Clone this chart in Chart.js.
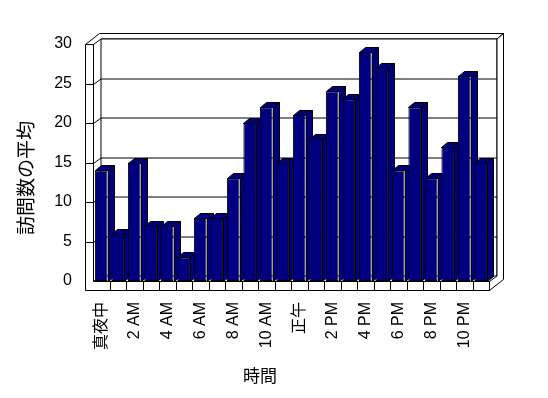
<!DOCTYPE html>
<html><head><meta charset="utf-8">
<script src="https://cdn.jsdelivr.net/npm/chart.js@4.4.1/dist/chart.umd.min.js"></script>
<style>html,body{margin:0;padding:0;background:#fff;}canvas{display:block;}</style>
</head><body>
<canvas id="c" width="548" height="398"></canvas>
<script>
const categories = ['真夜中','1 AM','2 AM','3 AM','4 AM','5 AM','6 AM','7 AM','8 AM','9 AM','10 AM','11 AM','正午','1 PM','2 PM','3 PM','4 PM','5 PM','6 PM','7 PM','8 PM','9 PM','10 PM','11 PM'];
const visits = [14,6,15,7,7,3,8,8,13,20,22,15,21,18,24,23,29,27,14,22,13,17,26,15];
const yTicks = [0,5,10,15,20,25,30];
const yTitle = '訪問数の平均';
const xTitle = '時間';

const FONT = '"Liberation Sans", "Noto Sans CJK JP", sans-serif';
const NAVY = '#000080';
const D = {x: 7.5, y: -5.5};   // box depth
const W = {x: 6.5, y: -5.5};   // back wall thickness
const LW = 8;                  // left wall thickness
const FT = 9;                  // floor thickness
const BD = {x: 6, y: -5};      // bar depth

function poly(ctx, pts, fill, stroke) {
  ctx.beginPath();
  ctx.moveTo(pts[0][0], pts[0][1]);
  for (let i = 1; i < pts.length; i++) ctx.lineTo(pts[i][0], pts[i][1]);
  ctx.closePath();
  if (fill) { ctx.fillStyle = fill; ctx.fill(); }
  if (stroke) { ctx.strokeStyle = stroke; ctx.stroke(); }
}
function line(ctx, pts) {
  ctx.beginPath();
  ctx.moveTo(pts[0][0], pts[0][1]);
  for (let i = 1; i < pts.length; i++) ctx.lineTo(pts[i][0], pts[i][1]);
  ctx.stroke();
}
const s = v => Math.round(v) + 0.5;

const box3d = {
  id: 'box3d',
  beforeDatasetsDraw(chart) {
    const ctx = chart.ctx, xs = chart.scales.x, ys = chart.scales.y;
    const L = s(xs.left), R = s(xs.right);
    const T = s(ys.getPixelForValue(yTicks[yTicks.length - 1]));
    const B = s(ys.getPixelForValue(0));
    ctx.save();
    ctx.lineWidth = 1;
    ctx.strokeStyle = '#000';
    // top face (left wall top + back wall top)
    poly(ctx, [[L - LW, T], [L, T], [L + D.x, T + D.y], [R + D.x, T + D.y],
               [R + D.x + W.x, T + D.y + W.y], [L - LW + D.x + W.x, T + D.y + W.y]], '#fff', '#000');
    // back wall inner face
    poly(ctx, [[L + D.x, T + D.y], [R + D.x, T + D.y], [R + D.x, B + D.y], [L + D.x, B + D.y]], '#fff', '#000');
    // right side
    poly(ctx, [[R, B], [R + D.x, B + D.y], [R + D.x, T + D.y], [R + D.x + W.x, T + D.y + W.y],
               [R + D.x + W.x, B + FT + D.y + W.y], [R, B + FT]], '#fff', '#000');
    // left wall inner face / floor
    line(ctx, [[L, B], [L + D.x, B + D.y]]);
    // gridlines
    yTicks.forEach(v => {
      if (v === 0 || v === yTicks[yTicks.length - 1]) return;
      const y = s(ys.getPixelForValue(v));
      line(ctx, [[L - LW, y], [L, y], [L + D.x, y + D.y], [R + D.x, y + D.y]]);
    });
    // front L-shaped face (left wall + floor slab)
    poly(ctx, [[L - LW, T], [L, T], [L, B], [R, B], [R, B + FT], [L - LW, B + FT]], null, '#000');
    // category dividers on floor slab
    const n = categories.length, pitch = (xs.right - xs.left) / n;
    for (let k = 1; k < n; k++) {
      const x = s(xs.left + k * pitch);
      line(ctx, [[x, B], [x, B + FT]]);
    }
    // bar side and top faces
    const meta = chart.getDatasetMeta(0);
    meta.data.forEach(bar => {
      const l = s(bar.x - bar.width / 2), r = s(bar.x + bar.width / 2);
      const t = s(bar.y), b = s(bar.base);
      poly(ctx, [[r, t], [r + BD.x, t + BD.y], [r + BD.x, b + BD.y], [r, b]], NAVY, '#000');
      poly(ctx, [[l, t], [l + BD.x, t + BD.y], [r + BD.x, t + BD.y], [r, t]], NAVY, '#000');
    });
    ctx.restore();
  },
  afterDraw(chart) {
    const ctx = chart.ctx;
    ctx.save();
    ctx.fillStyle = '#000';
    ctx.textAlign = 'center';
    ctx.textBaseline = 'middle';
    ctx.font = '19px ' + FONT;
    ctx.translate(28, 178);
    ctx.rotate(-Math.PI / 2);
    ctx.fillText(yTitle, 0, 0);
    ctx.restore();
    ctx.save();
    ctx.fillStyle = '#000';
    ctx.textAlign = 'center';
    ctx.textBaseline = 'middle';
    ctx.font = '17px ' + FONT;
    ctx.fillText(xTitle, 260, 377);
    ctx.restore();
  }
};

new Chart(document.getElementById('c'), {
  type: 'bar',
  data: {
    labels: categories,
    datasets: [{
      data: visits,
      backgroundColor: NAVY,
      borderColor: '#000',
      borderWidth: 1,
      borderSkipped: false,
      barPercentage: 0.77,
      categoryPercentage: 1.0
    }]
  },
  options: {
    responsive: false,
    animation: false,
    devicePixelRatio: 1,
    layout: {padding: {top: 44, right: 59, left: 0, bottom: 0}},
    plugins: {legend: {display: false}, tooltip: {enabled: false}},
    scales: {
      x: {
        grid: {display: false, drawTicks: false},
        border: {display: false},
        ticks: {
          autoSkip: false, maxRotation: 90, minRotation: 90, padding: 21,
          color: '#000', font: {family: FONT, size: 16},
          callback: (v, i) => (i % 2 === 0 ? categories[i] : '')
        },
        afterFit: sc => { sc.height = 117; }
      },
      y: {
        min: yTicks[0], max: yTicks[yTicks.length - 1],
        grid: {display: false, drawTicks: false},
        border: {display: false},
        ticks: {stepSize: 5, padding: 21, color: '#000', font: {family: FONT, size: 16}},
        afterFit: sc => { sc.width = 93; }
      }
    }
  },
  plugins: [box3d]
});
</script>
</body></html>
